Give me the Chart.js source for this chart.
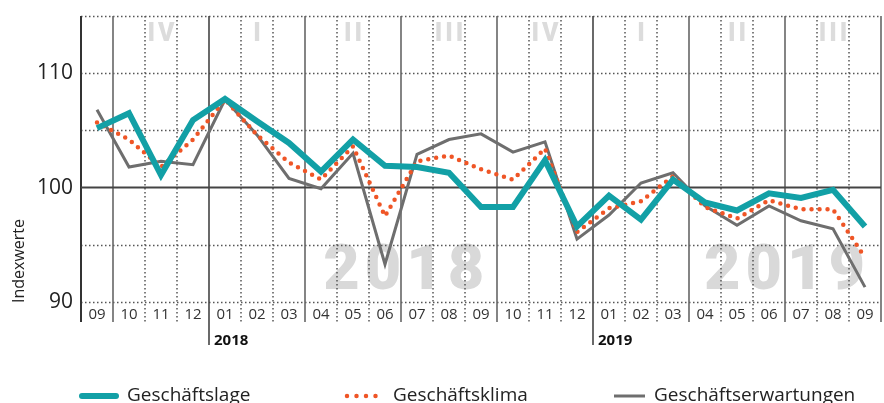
<!DOCTYPE html>
<html>
<head>
<meta charset="utf-8">
<script src="https://cdn.jsdelivr.net/npm/chart.js@4"></script>
<style>
  html, body { margin: 0; padding: 0; background: #fff; }
  #wrap { width: 884px; height: 403px; position: relative; }
</style>
</head>
<body>
<div id="wrap"><canvas id="c" width="884" height="403"></canvas></div>
<script>
// ---- data ----
const monthLabels = ['09','10','11','12','01','02','03','04','05','06','07','08','09','10','11','12','01','02','03','04','05','06','07','08','09'];
const yearMarks = [{index: 4, label: '2018'}, {index: 16, label: '2019'}];
const quarterLabels = ['IV','I','II','III','IV','I','II','III'];
const quarterStarts = [1, 4, 7, 10, 13, 16, 19, 22];
const geschaeftslage = [105.2,106.5,101.1,105.9,107.75,105.8,103.9,101.4,104.2,101.9,101.8,101.3,98.3,98.3,102.4,96.6,99.3,97.2,100.7,98.7,98.0,99.5,99.1,99.8,96.6];
const geschaeftsklima = [105.7,104.2,101.8,104.2,107.7,104.6,102.2,100.7,103.6,97.5,102.3,102.8,101.6,100.7,103.4,96.1,98.2,98.8,101.0,98.3,97.3,98.9,98.1,98.1,93.9];
const geschaeftserwartungen = [106.8,101.8,102.3,102.0,107.7,104.6,100.8,99.9,103.0,93.3,102.9,104.2,104.7,103.1,104.0,95.5,97.6,100.4,101.3,98.4,96.7,98.4,97.1,96.4,91.3];
const yTickLabels = [90, 100, 110];
const seriesNames = ['Geschäftslage', 'Geschäftsklima', 'Geschäftserwartungen'];

const FONT = '"Open Sans", "Noto Sans", sans-serif';
const HEAVY = 'Roboto, "DejaVu Sans", sans-serif';

const framePlugin = {
  id: 'frame',
  beforeDatasetsDraw(chart) {
    const ctx = chart.ctx, ca = chart.chartArea;
    const xs = chart.scales.x, ys = chart.scales.y;
    const n = monthLabels.length;
    ctx.save();
    // watermark years
    ctx.fillStyle = '#d9d9d9';
    ctx.font = '900 63px ' + HEAVY;
    ctx.letterSpacing = '5px';
    ctx.textAlign = 'center';
    ctx.textBaseline = 'alphabetic';
    ctx.fillText('2018', xs.getPixelForValue(9.6) + 2, ys.getPixelForValue(91.1));
    ctx.fillText('2019', xs.getPixelForValue(21.5) + 2, ys.getPixelForValue(91.1));
    ctx.letterSpacing = '0px';

    // horizontal grid
    [90, 95, 105, 110, 115].forEach(v => {
      const y = Math.round(ys.getPixelForValue(v)) + 0.5;
      ctx.beginPath();
      ctx.setLineDash([1.5, 2.5]);
      ctx.strokeStyle = '#555';
      ctx.lineWidth = 1.5;
      ctx.moveTo(ca.left, y); ctx.lineTo(ca.right, y);
      ctx.stroke();
    });
    // vertical grid
    const bottomExt = ca.bottom + 20;
    for (let i = 0; i <= n; i++) {
      let x;
      if (i === 0) x = ca.left;
      else if (i === n) x = ca.right;
      else x = (xs.getPixelForValue(i - 1) + xs.getPixelForValue(i)) / 2;
      const lab = i < n ? monthLabels[i] : '10';
      const quarter = ['10','01','04','07'].includes(lab) || i === 0;
      const isYear = yearMarks.some(m => m.index === i);
      ctx.beginPath();
      if (quarter) {
        ctx.setLineDash([]);
        ctx.strokeStyle = i === 0 ? '#333' : (isYear ? '#444' : '#666');
        ctx.lineWidth = i === 0 ? 2 : 1.6;
      } else {
        ctx.setLineDash([1.5, 2.5]);
        ctx.strokeStyle = '#555';
        ctx.lineWidth = 1.5;
      }
      ctx.moveTo(x, ca.top);
      ctx.lineTo(x, isYear ? ca.bottom + 43 : bottomExt);
      ctx.stroke();
    }
    // 100 line
    ctx.setLineDash([]);
    ctx.strokeStyle = '#444';
    ctx.lineWidth = 2;
    const y100 = ys.getPixelForValue(100);
    ctx.beginPath(); ctx.moveTo(ca.left, y100); ctx.lineTo(ca.right, y100); ctx.stroke();

    // quarter labels
    ctx.fillStyle = '#dcdcdc';
    ctx.font = '900 25px ' + HEAVY;
    ctx.letterSpacing = '3px';
    ctx.textAlign = 'center';
    ctx.textBaseline = 'middle';
    quarterLabels.forEach((q, k) => {
      const cx = xs.getPixelForValue(quarterStarts[k] + 1);
      ctx.fillText(q, cx + 1.5, ca.top + 19);
    });
    ctx.letterSpacing = '0px';

    // year labels under axis
    ctx.fillStyle = '#111';
    ctx.font = 'bold 15px ' + FONT;
    ctx.textAlign = 'left';
    ctx.textBaseline = 'middle';
    yearMarks.forEach(m => {
      const x = (xs.getPixelForValue(m.index - 1) + xs.getPixelForValue(m.index)) / 2;
      ctx.fillText(m.label, x + 5, ca.bottom + 39);
    });

    // y title
    ctx.save();
    ctx.translate(19, 261);
    ctx.rotate(-Math.PI / 2);
    ctx.fillStyle = '#222';
    ctx.font = '16px ' + FONT;
    ctx.textAlign = 'center';
    ctx.textBaseline = 'middle';
    ctx.fillText('Indexwerte', 0, 0);
    ctx.restore();
    ctx.restore();
  },
  afterDraw(chart) {
    const ctx = chart.ctx;
    const spots = [
      {x0: 82, x1: 116, tx: 127},
      {x0: 347, x1: 376, tx: 393},
      {x0: 614, x1: 645, tx: 654}
    ];
    const y = 396;
    ctx.save();
    chart.data.datasets.forEach((ds, i) => {
      const s = spots[i];
      ctx.beginPath();
      ctx.strokeStyle = ds.borderColor;
      ctx.lineWidth = ds.borderWidth;
      ctx.lineCap = i === 2 ? 'butt' : 'round';
      ctx.setLineDash(i === 1 ? [0, 9.5] : []);
      ctx.moveTo(s.x0, y); ctx.lineTo(s.x1, y);
      ctx.stroke();
      ctx.setLineDash([]);
      ctx.fillStyle = '#222';
      ctx.font = '19px ' + FONT;
      ctx.textAlign = 'left';
      ctx.textBaseline = 'middle';
      ctx.fillText(ds.label, s.tx, y);
    });
    ctx.restore();
  }
};

new Chart(document.getElementById('c'), {
  type: 'line',
  data: {
    labels: monthLabels,
    datasets: [
      { label: seriesNames[0], data: geschaeftslage, borderColor: '#12a0a6', borderWidth: 6, pointRadius: 0, borderJoinStyle: 'miter', tension: 0 },
      { label: seriesNames[1], data: geschaeftsklima, borderColor: '#ef5526', borderWidth: 4.5, borderDash: [0, 8], borderCapStyle: 'round', pointRadius: 0, tension: 0 },
      { label: seriesNames[2], data: geschaeftserwartungen, borderColor: '#6e6e6e', borderWidth: 3, pointRadius: 0, tension: 0 }
    ]
  },
  options: {
    responsive: false,
    animation: false,
    devicePixelRatio: 1,
    layout: { padding: { top: 16, right: 3, left: 0, bottom: 0 } },
    plugins: { legend: { display: false }, tooltip: { enabled: false } },
    scales: {
      x: {
        type: 'category',
        offset: true,
        grid: { display: false, drawTicks: false },
        border: { display: false },
        ticks: { color: '#333', font: { size: 15, family: FONT }, padding: 4, maxRotation: 0, autoSkip: false },
        afterFit(s) { s.height = 101; s.paddingLeft = 0; s.paddingRight = 0; }
      },
      y: {
        min: 90, max: 115,
        grid: { display: false, drawTicks: false },
        border: { display: false },
        ticks: {
          stepSize: 5,
          color: '#222',
          font: { size: 21, family: FONT },
          padding: 8,
          callback: v => yTickLabels.includes(v) ? String(v) : ''
        },
        afterFit(s) { s.width = 81; s.paddingTop = 0; s.paddingBottom = 0; }
      }
    }
  },
  plugins: [framePlugin]
});
</script>
</body>
</html>
